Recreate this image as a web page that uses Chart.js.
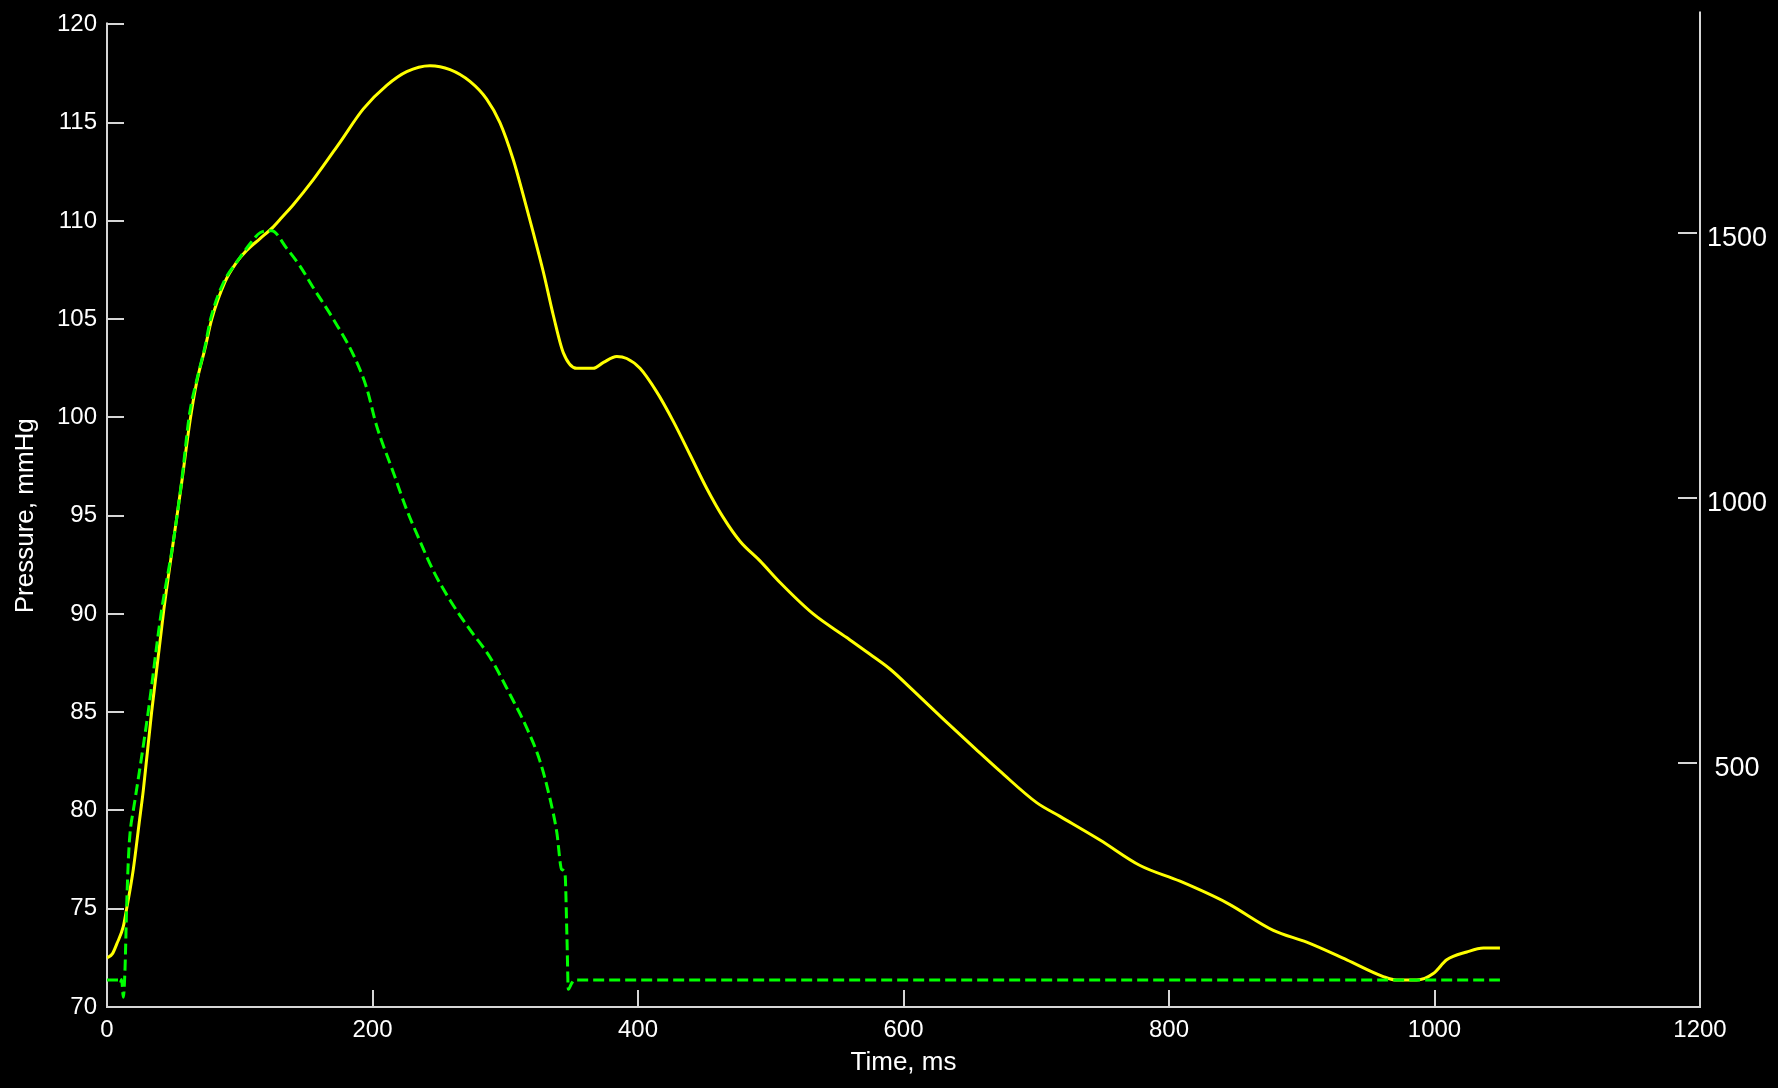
<!DOCTYPE html>
<html>
<head>
<meta charset="utf-8">
<script src="https://cdn.jsdelivr.net/npm/chart.js@4.4.1/dist/chart.umd.min.js"></script>
<style>
html,body{margin:0;padding:0;background:#000;overflow:hidden;}
#wrap{width:1778px;height:1088px;position:relative;}
</style>
</head>
<body>
<div id="wrap"><canvas id="c" width="1778" height="1088"></canvas></div>
<script>
// ---- Data ----
const pressureTime = [0,4,7.3,12.3,14.8,19.8,24.3,27.3,33.6,42.4,50,56.3,62.5,67.6,73.8,78.9,88.9,97.7,105.2,115.3,125.3,132,140,155.4,175.5,193.1,210.7,225.8,243.3,258.4,273.4,286,296,306.1,313.6,321.1,328.7,336.2,343.7,353.8,366.3,374,384,391.5,401.5,414.1,426.6,439.2,451.7,464.3,476.8,491.9,507,532,557.2,574.8,589.8,607.4,630,654,672.7,700.3,717.9,748,778.2,808.3,843.5,878.6,903.7,933.9,961.4,971.5,986.6,999.1,1009.2,1024.3,1036.8,1049.3];
const pressureValue = [72.5,72.7,73.2,74.1,75.0,77.0,79.4,81.0,85.0,90.0,93.7,96.7,99.8,101.8,103.5,105.0,106.9,107.9,108.5,109.1,109.7,110.2,110.8,112.1,114.0,115.7,116.9,117.6,117.9,117.7,117.1,116.2,115.0,113.1,111.3,109.4,107.4,105.2,103.3,102.5,102.5,102.8,103.1,103.0,102.5,101.3,99.8,98.1,96.4,94.9,93.7,92.7,91.6,90.0,88.8,87.95,87.2,86.1,84.65,83.15,82.0,80.4,79.7,78.5,77.2,76.4,75.3,73.9,73.3,72.4,71.55,71.37,71.37,71.7,72.4,72.8,73.0,73.0];

const flowTime = [0,8.5,10,11,12.3,13.6,14.8,16.1,17.3,19.8,21,31,40.7,50,56.3,62,67.6,73.8,78,88,97.7,108.5,115.3,124,135.4,145.4,155.4,170.5,185.5,195.6,203,215.7,225.8,235.8,245.8,258.4,273.4,288.5,303.6,316.2,326.2,333.7,338.8,342.5,345,346.5,347.5,350,352,1049.3];
const flowValue = [71.37,71.37,71.2,71.4,70.5,72.0,75.1,77.5,78.8,80.0,80.5,85.0,90.0,93.7,96.8,100.1,101.9,103.6,105.0,106.9,107.9,108.9,109.4,109.5,108.6,107.7,106.6,105.0,103.2,101.5,99.6,97.2,95.3,93.7,92.2,90.7,89.2,87.8,85.9,84.2,82.5,80.6,78.9,77.0,76.8,73.5,70.9,71.2,71.37,71.37];

const xTicks = [0,200,400,600,800,1000,1200];
const yTicks = [70,75,80,85,90,95,100,105,110,115,120];
const y2Ticks = [500,1000,1500];

const xTitle = 'Time, ms';
const yTitle = 'Pressure, mmHg';

// ---- Fonts ----
function hasFont(name){
  const c=document.createElement('canvas').getContext('2d');
  const t='1200 Pressure mmHg';
  c.font='40px monospace'; const a=c.measureText(t).width;
  c.font="40px '"+name+"', monospace"; const b=c.measureText(t).width;
  return Math.abs(a-b)>0.5;
}
const narrow = hasFont('Liberation Sans Narrow');
const tickFont = narrow ? {family:"'Liberation Sans Narrow', 'Liberation Sans', Arial", size:28} : {family:"'Liberation Sans', Arial", size:24};
const titleFont = {family:"'Liberation Sans', Arial", size:26};
const rightFont = {family:"'Liberation Sans', Arial", size:27};

const AXIS = '#d6d6d6';
const plain = v => String(v);

const axesPlugin = {
  id:'axesPlugin',
  beforeDraw(chart){
    const ctx=chart.ctx; ctx.save(); ctx.fillStyle='#000'; ctx.fillRect(0,0,chart.width,chart.height); ctx.restore();
  },
  beforeDatasetsDraw(chart){
    const {ctx, chartArea:a, scales} = chart;
    const x=scales.x, y=scales.y, y2=scales.y2;
    ctx.save();
    ctx.strokeStyle=AXIS; ctx.lineWidth=2; ctx.lineCap='butt';
    ctx.beginPath();
    ctx.moveTo(a.left, a.top-2); ctx.lineTo(a.left, a.bottom); ctx.lineTo(a.right, a.bottom);
    ctx.moveTo(a.right, a.bottom+1); ctx.lineTo(a.right, a.top-13);
    xTicks.forEach(v=>{const p=Math.round(x.getPixelForValue(v)); ctx.moveTo(p,a.bottom); ctx.lineTo(p,a.bottom-17);});
    yTicks.forEach(v=>{const p=Math.round(y.getPixelForValue(v)); ctx.moveTo(a.left,p); ctx.lineTo(a.left+17,p);});
    y2Ticks.forEach(v=>{const p=Math.round(y2.getPixelForValue(v)); ctx.moveTo(a.right-22,p); ctx.lineTo(a.right-3,p);});
    ctx.stroke();
    ctx.restore();
  }
};

const toXY = (xs, ys) => xs.map((t,i)=>({x:t, y:ys[i]}));

new Chart(document.getElementById('c'), {
  type:'line',
  data:{
    datasets:[
      {label:'Pressure', data:toXY(pressureTime, pressureValue), borderColor:'#ffff00', borderWidth:3, pointRadius:0, cubicInterpolationMode:'monotone', yAxisID:'y', order:2},
      {label:'Flow', data:toXY(flowTime, flowValue), borderColor:'#00ff00', borderWidth:3, borderDash:[11,5], pointRadius:0, cubicInterpolationMode:'monotone', yAxisID:'y', order:1}
    ]
  },
  options:{
    responsive:false, animation:false, events:[],
    layout:{padding:{top:21,left:0,right:0,bottom:0}},
    plugins:{legend:{display:false}, tooltip:{enabled:false}},
    scales:{
      x:{type:'linear', position:'bottom', min:0, max:1200,
         afterBuildTicks(s){ s.ticks = xTicks.map(v=>({value:v})); },
         afterFit(s){ s.height = 81; },
         grid:{display:false, drawTicks:false}, border:{display:false},
         ticks:{font:tickFont, color:'#ffffff', padding:9, maxRotation:0, autoSkip:false, callback:plain},
         title:{display:true, text:xTitle, color:'#ffffff', font:titleFont, padding:{top:0,bottom:10}}},
      y:{type:'linear', position:'left', min:70, max:120,
         afterBuildTicks(s){ s.ticks = yTicks.map(v=>({value:v})); },
         afterFit(s){ s.width = 107; },
         grid:{display:false, drawTicks:false}, border:{display:false},
         ticks:{font:tickFont, color:'#ffffff', padding:10, autoSkip:false, callback:plain},
         title:{display:true, text:yTitle, color:'#ffffff', font:titleFont, padding:{top:10,bottom:0}}},
      y2:{type:'linear', position:'right', min:39.5, max:1893,
         afterBuildTicks(s){ s.ticks = y2Ticks.map(v=>({value:v})); },
         afterFit(s){ s.width = 78; },
         grid:{display:false, drawTicks:false}, border:{display:false},
         ticks:{font:rightFont, color:'#ffffff', padding:7, crossAlign:'center', labelOffset:6, autoSkip:false, callback:plain}}
    }
  },
  plugins:[axesPlugin]
});
</script>
</body>
</html>
